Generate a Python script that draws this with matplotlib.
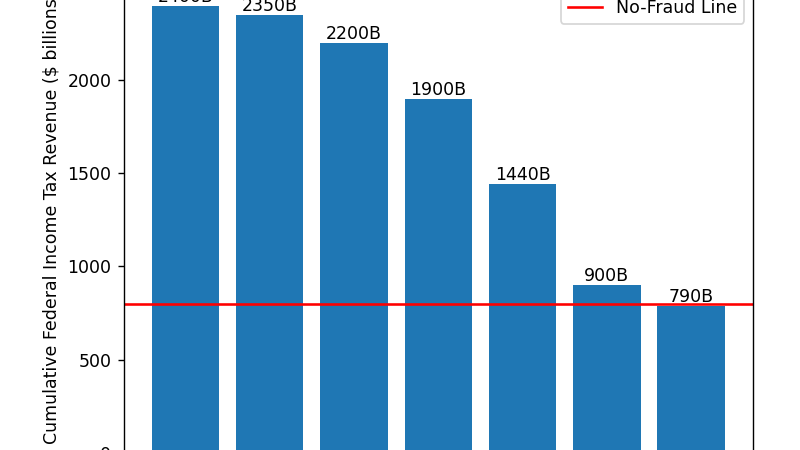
import matplotlib
matplotlib.use("Agg")
import matplotlib.pyplot as plt

# cumulative revenue per scenario ($ billions)
revenue = [2400, 2350, 2200, 1900, 1440, 900, 790]
labels = [f"{v}B" for v in revenue]
no_fraud = 800

fig = plt.figure(figsize=(6.4, 3.6), dpi=125)
# the visible frame is a crop of a taller chart: axes run past the top and bottom edges
ax = fig.add_axes([0.1544, -0.0058, 0.787, 1.0428])

x = list(range(len(revenue)))
bars = ax.bar(x, revenue, color="#1f77b4", width=0.8)
for xi, v, lab in zip(x, revenue, labels):
    ax.text(xi, v, lab, ha="center", va="bottom", fontsize=10)

ax.axhline(no_fraud, color="red", lw=1.5, label="No-Fraud Line")

ax.set_xlim(-0.735, 6.735)
ax.set_ylim(0, 2520)
ax.set_yticks([0, 500, 1000, 1500, 2000])
ax.set_xticks(x)
ax.set_xticklabels([""] * len(x))
ax.set_ylabel("Cumulative Federal Income Tax Revenue ($ billions)")
ax.legend(loc="upper right")

fig.savefig("out.png", dpi=125)
